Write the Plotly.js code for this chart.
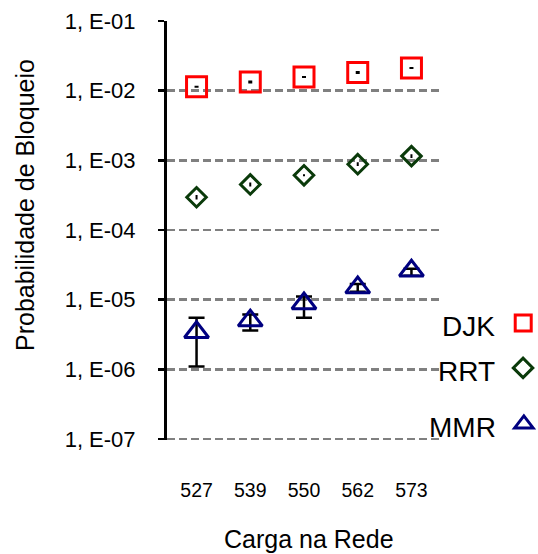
<!DOCTYPE html>
<html>
<head>
<meta charset="utf-8">
<script src="https://cdn.plot.ly/plotly-3.0.1.min.js"></script>
<style>html,body{margin:0;padding:0;background:#fff;}#chart{width:538px;height:554px;}</style>
</head>
<body>
<div id="chart"></div>
<script>
// ---- data ----
var categories = ['527', '539', '550', '562', '573'];
var seriesNames = ['DJK', 'RRT', 'MMR'];
var djk = [0.0114, 0.0133, 0.0157, 0.0183, 0.0211];
var djkErr = [null, 0.0002, null, 0.0003, null];
var rrt = [2.95e-4, 4.5e-4, 6.1e-4, 8.8e-4, 1.15e-3];
var rrtErr = [1.2e-5, 1.5e-5, null, 2.5e-5, 3.5e-5];
var mmr = [3.4e-6, 5.0e-6, 8.8e-6, 1.49e-5, 2.6e-5];
var mmrErrPlus = [2.1e-6, 1.1e-6, 2.3e-6, 1.8e-6, 1.8e-6];
var mmrErrMinus = [2.3e-6, 1.4e-6, 3.3e-6, 1.9e-6, 3.9e-6];
var yTickVals = [1e-1, 1e-2, 1e-3, 1e-4, 1e-5, 1e-6, 1e-7];
var yTickText = ['1, E-01', '1, E-02', '1, E-03', '1, E-04', '1, E-05', '1, E-06', '1, E-07'];
var gridVals = [1e-2, 1e-3, 1e-4, 1e-5, 1e-6, 1e-7];

var FONT = 'Liberation Sans, Arial, sans-serif';

var traces = [
  {
    x: categories, y: djk, name: '', type: 'scatter', mode: 'markers', yaxis: 'y2',
    marker: {symbol: 'square-open', size: 20, color: '#FF0000', line: {width: 3, color: '#FF0000'}},
    error_y: {type: 'data', array: djkErr, symmetric: true, color: '#000', thickness: 2, width: 2},
    legend: 'legend', cliponaxis: false
  },
  {
    x: categories, y: rrt, name: '', type: 'scatter', mode: 'markers', yaxis: 'y',
    marker: {symbol: 'diamond-open', size: 15, color: '#0A3A0A', line: {width: 3, color: '#0A3A0A'}},
    error_y: {type: 'data', array: rrtErr, symmetric: true, color: '#000', thickness: 2, width: 1},
    legend: 'legend2', cliponaxis: false
  },
  {
    x: categories, y: mmr, name: '', type: 'scatter', mode: 'markers', yaxis: 'y',
    marker: {symbol: 'triangle-up-open', size: 21, color: '#000080', line: {width: 3, color: '#000080'}},
    error_y: {type: 'data', array: mmrErrPlus, arrayminus: mmrErrMinus, symmetric: false, color: '#000', thickness: 2.5, width: 8},
    legend: 'legend3', cliponaxis: false
  }
];

function legendFor(i, py) {
  return {
    title: {text: seriesNames[i], side: 'left', font: {family: FONT, size: 28, color: '#000'}},
    x: (549 - 167) / 274, xanchor: 'right',
    y: (440 - py) / 419, yanchor: 'middle',
    bgcolor: 'rgba(0,0,0,0)', borderwidth: 0,
    font: {family: FONT, size: 26, color: '#000'},
    itemwidth: 30
  };
}

var yRange = [-7.015, -1];

var layout = {
  width: 538, height: 554,
  margin: {l: 167, r: 97, t: 21, b: 114, autoexpand: false},
  paper_bgcolor: '#fff', plot_bgcolor: '#fff',
  showlegend: true,
  legend: legendFor(0, 323),
  legend2: legendFor(1, 368),
  legend3: legendFor(2, 424),
  xaxis: {
    type: 'category', range: [-0.55, 4.55],
    showline: false, showgrid: false, zeroline: false, ticks: '',
    tickfont: {family: FONT, size: 19.5, color: '#000'},
    ticklabelstandoff: 36
  },
  yaxis: {
    type: 'log', range: yRange,
    tickmode: 'array', tickvals: gridVals, showticklabels: false, ticks: '',
    showgrid: true, gridcolor: '#808080', gridwidth: 2.5, griddash: '8px,4px',
    showline: false, zeroline: false
  },
  yaxis2: {
    type: 'log', range: yRange, overlaying: 'y', anchor: 'x', side: 'left',
    tickmode: 'array', tickvals: yTickVals, ticktext: yTickText,
    ticks: 'outside', ticklen: 6, tickwidth: 2.5, tickcolor: '#000',
    showline: true, linewidth: 3, linecolor: '#000',
    showgrid: false, zeroline: false,
    tickfont: {family: FONT, size: 22, color: '#000'},
    ticklabelstandoff: 18
  },
  annotations: [
    {text: 'Probabilidade de Bloqueio', xref: 'paper', yref: 'paper',
     x: (25 - 167) / 274, y: (440 - 205) / 419, xanchor: 'center', yanchor: 'middle',
     textangle: -90, showarrow: false, font: {family: FONT, size: 25, color: '#000'}},
    {text: 'Carga na Rede', xref: 'paper', yref: 'paper',
     x: (309 - 167) / 274, y: (440 - 539) / 419, xanchor: 'center', yanchor: 'middle',
     showarrow: false, font: {family: FONT, size: 25, color: '#000'}}
  ]
};

Plotly.newPlot('chart', traces, layout, {displayModeBar: false, staticPlot: true});
</script>
</body>
</html>
